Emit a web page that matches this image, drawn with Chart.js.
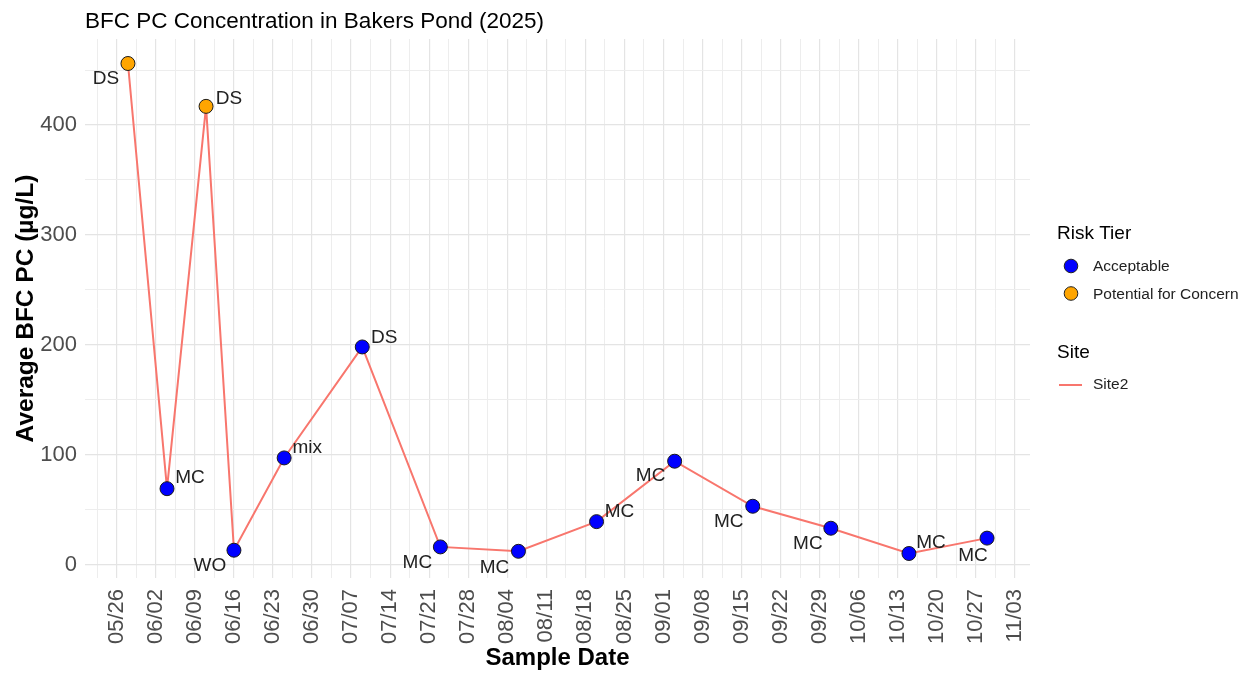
<!DOCTYPE html>
<html>
<head>
<meta charset="utf-8">
<script src="https://cdn.jsdelivr.net/npm/chart.js@4.4.1/dist/chart.umd.min.js"></script>
<style>
  html, body { margin: 0; padding: 0; background: #fff; }
</style>
</head>
<body>
<canvas id="graph" width="1249" height="675"></canvas>
<script>
// Datos (2025)
const sampleDates = ['05/28', '06/04', '06/11', '06/16', '06/25', '07/09', '07/23',
                     '08/06', '08/20', '09/03', '09/17', '10/01', '10/15', '10/29'];
const bfcValues = [456, 69, 417, 13, 97, 198, 16, 12, 39, 94, 53, 33, 10, 24];
const sampleTypes = ['DS', 'MC', 'DS', 'WO', 'mix', 'DS', 'MC', 'MC', 'MC', 'MC', 'MC', 'MC', 'MC', 'MC'];
const riskTiers = ['Potential for Concern', 'Acceptable', 'Potential for Concern', 'Acceptable',
                   'Acceptable', 'Acceptable', 'Acceptable', 'Acceptable', 'Acceptable',
                   'Acceptable', 'Acceptable', 'Acceptable', 'Acceptable', 'Acceptable'];
const tickDates = ['05/26', '06/02', '06/09', '06/16', '06/23', '06/30', '07/07', '07/14',
                   '07/21', '07/28', '08/04', '08/11', '08/18', '08/25', '09/01', '09/08',
                   '09/15', '09/22', '09/29', '10/06', '10/13', '10/20', '10/27', '11/03'];
const yTicks = [0, 100, 200, 300, 400];

const tierColors = { 'Acceptable': '#0000FF', 'Potential for Concern': '#FFA500' };
const lineColor = '#F8766D';
const FONT = '"Liberation Sans", Arial, sans-serif';

// desplazamiento de las etiquetas (como ggrepel)
const labelNudge = [[-22, 15], [23, -11], [23, -8], [-24, 16], [23, -10], [22, -9], [-23, 16],
                    [-24, 16], [23, -10], [-24, 15], [-24, 16], [-23, 16], [22, -11], [-14, 18]];

function dayOf(s) {
    const [m, d] = s.split('/').map(Number);
    return Math.round(Date.UTC(2025, m - 1, d) / 86400000);
}
function labelOf(day) {
    const dt = new Date(day * 86400000);
    const mm = String(dt.getUTCMonth() + 1).padStart(2, '0');
    const dd = String(dt.getUTCDate()).padStart(2, '0');
    return mm + '/' + dd;
}

const xs = sampleDates.map(dayOf);
const xSpan = xs[xs.length - 1] - xs[0];
const xMin = xs[0] - 0.05 * xSpan;
const xMax = xs[xs.length - 1] + 0.05 * xSpan;
const vMin = Math.min(...bfcValues), vMax = Math.max(...bfcValues);
const ySpan = vMax - vMin;
const yMin = vMin - 0.05 * ySpan;
const yMax = vMax + 0.05 * ySpan;

const majorX = tickDates.map(dayOf);
const minorX = majorX.map(v => v - 3.5).concat(majorX.map(v => v + 3.5))
    .filter(v => v > xMin && v < xMax && !majorX.includes(v));
const minorY = yTicks.map(v => v + 50).concat([yTicks[0] - 50]).filter(v => v > yMin && v < yMax);

const points = xs.map((x, i) => ({ x: x, y: bfcValues[i] }));

const extras = {
    id: 'extras',
    afterDatasetsDraw(chart) {
        const ctx = chart.ctx;
        const meta = chart.getDatasetMeta(0);
        ctx.save();
        ctx.font = '19px ' + FONT;
        ctx.fillStyle = '#222';
        ctx.textAlign = 'center';
        ctx.textBaseline = 'middle';
        meta.data.forEach((pt, i) => {
            ctx.fillText(sampleTypes[i], pt.x + labelNudge[i][0], pt.y + labelNudge[i][1]);
        });
        ctx.restore();
    },
    afterDraw(chart) {
        const ctx = chart.ctx;
        ctx.save();
        // titulo
        ctx.fillStyle = '#000';
        ctx.textAlign = 'left';
        ctx.textBaseline = 'middle';
        ctx.font = '22.5px ' + FONT;
        ctx.fillText('BFC PC Concentration in Bakers Pond (2025)', 85, 22);

        // leyenda
        const lx = 1057;
        ctx.fillStyle = '#000';
        ctx.font = '19px ' + FONT;
        ctx.fillText('Risk Tier', lx, 234);
        ctx.font = '15.5px ' + FONT;
        const tiers = ['Acceptable', 'Potential for Concern'];
        tiers.forEach((t, i) => {
            const y = 266 + i * 27.5;
            ctx.beginPath();
            ctx.arc(lx + 14, y, 6.8, 0, Math.PI * 2);
            ctx.fillStyle = tierColors[t];
            ctx.fill();
            ctx.lineWidth = 1;
            ctx.strokeStyle = '#222';
            ctx.stroke();
            ctx.fillStyle = '#222';
            ctx.fillText(t, lx + 36, y + 1);
        });
        ctx.fillStyle = '#000';
        ctx.font = '19px ' + FONT;
        ctx.fillText('Site', lx, 353);
        ctx.strokeStyle = lineColor;
        ctx.lineWidth = 2;
        ctx.beginPath();
        ctx.moveTo(lx + 2, 385);
        ctx.lineTo(lx + 25, 385);
        ctx.stroke();
        ctx.fillStyle = '#222';
        ctx.font = '15.5px ' + FONT;
        ctx.fillText('Site2', lx + 36, 385);
        ctx.restore();
    }
};

const ctx = document.getElementById('graph').getContext('2d');
new Chart(ctx, {
    type: 'line',
    data: {
        datasets: [{
            label: 'Site2',
            data: points,
            borderColor: lineColor,
            borderWidth: 2,
            tension: 0,
            fill: false,
            pointRadius: 7,
            pointHoverRadius: 7,
            pointBorderWidth: 1,
            pointBorderColor: '#1a1a1a',
            pointBackgroundColor: riskTiers.map(t => tierColors[t])
        }]
    },
    options: {
        responsive: false,
        animation: false,
        layout: { padding: { top: 39, right: 219, left: 0, bottom: 0 } },
        plugins: {
            legend: { display: false },
            tooltip: { enabled: false }
        },
        scales: {
            x: {
                type: 'linear',
                min: xMin,
                max: xMax,
                afterBuildTicks: (s) => {
                    s.ticks = majorX.concat(minorX).sort((a, b) => a - b).map(v => ({ value: v }));
                },
                afterFit: (s) => { s.height = 97; },
                ticks: {
                    autoSkip: false,
                    minRotation: 90,
                    maxRotation: 90,
                    padding: 11,
                    color: '#4D4D4D',
                    font: { size: 22, family: FONT },
                    callback: (v) => majorX.includes(v) ? labelOf(v) : ''
                },
                grid: {
                    drawTicks: false,
                    color: (c) => majorX.includes(c.tick.value) ? '#E4E4E4' : '#EDEDED',
                    lineWidth: (c) => majorX.includes(c.tick.value) ? 1.2 : 1
                },
                border: { display: false },
                title: {
                    display: true,
                    text: 'Sample Date',
                    color: '#000',
                    font: { size: 24, weight: 'bold', family: FONT },
                    padding: { top: 0, bottom: 2 }
                }
            },
            y: {
                min: yMin,
                max: yMax,
                afterBuildTicks: (s) => {
                    s.ticks = yTicks.concat(minorY).sort((a, b) => a - b).map(v => ({ value: v }));
                },
                afterFit: (s) => { s.width = 85; },
                ticks: {
                    padding: 8,
                    color: '#4D4D4D',
                    font: { size: 22, family: FONT },
                    callback: (v) => yTicks.includes(v) ? String(v) : ''
                },
                grid: {
                    drawTicks: false,
                    color: (c) => yTicks.includes(c.tick.value) ? '#E4E4E4' : '#EDEDED',
                    lineWidth: (c) => yTicks.includes(c.tick.value) ? 1.2 : 1
                },
                border: { display: false },
                title: {
                    display: true,
                    text: 'Average BFC PC (µg/L)',
                    color: '#000',
                    font: { size: 24.5, weight: 'bold', family: FONT },
                    padding: { top: 12, bottom: 0 }
                }
            }
        }
    },
    plugins: [extras]
});
</script>
</body>
</html>
